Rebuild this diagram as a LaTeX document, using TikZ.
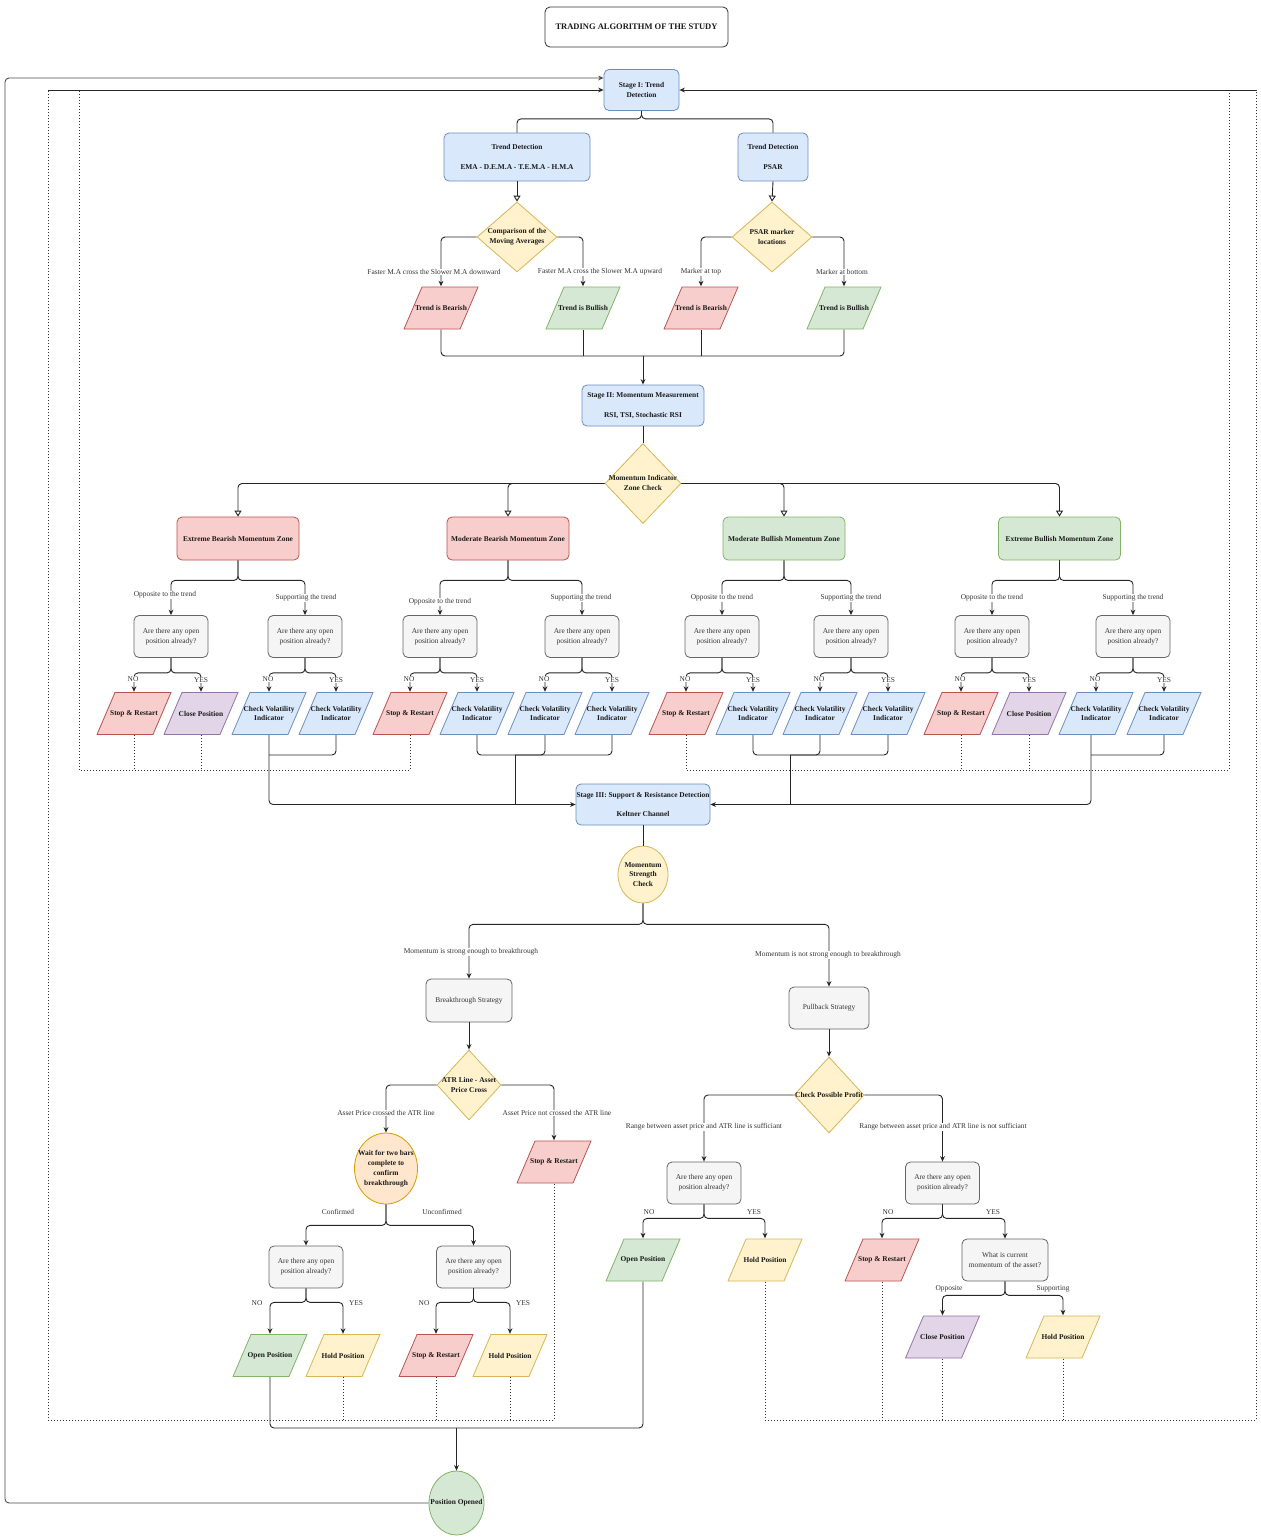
\documentclass[tikz,border=0pt]{standalone}
\usepackage{fontspec}
\setmainfont{Liberation Serif}
\usetikzlibrary{shapes.geometric,arrows.meta}
\definecolor{bfill}{HTML}{DAE8FC}\definecolor{bline}{HTML}{6C8EBF}
\definecolor{rfill}{HTML}{F8CECC}\definecolor{rline}{HTML}{B85450}
\definecolor{gfill}{HTML}{D5E8D4}\definecolor{gline}{HTML}{82B366}
\definecolor{yfill}{HTML}{FFF2CC}\definecolor{yline}{HTML}{D6B656}
\definecolor{pfill}{HTML}{E1D5E7}\definecolor{pline}{HTML}{9673A6}
\definecolor{nfill}{HTML}{F5F5F5}\definecolor{nline}{HTML}{666666}\definecolor{ntext}{HTML}{333333}
\definecolor{ofill}{HTML}{FFE6CC}\definecolor{oline}{HTML}{D79B00}
\definecolor{ink}{HTML}{1A1A1A}
\newcommand{\dgf}{\fontsize{7.4}{9.8}\selectfont}
\begin{document}
\begin{tikzpicture}[x=1pt,y=-1pt,
  txt/.style={font=\dgf\bfseries, text=ink, align=center, inner sep=0pt},
  fblue/.style={fill=bfill, draw=bline},
  fred/.style={fill=rfill, draw=rline},
  fgreen/.style={fill=gfill, draw=gline},
  fyellow/.style={fill=yfill, draw=yline},
  forange/.style={fill=ofill, draw=oline},
  fgray/.style={fill=nfill, draw=nline, text=ntext, font=\dgf},
  rbox/.style={txt, rounded corners=5pt, line width=0.8pt, draw},
  % slanted data box: an invisible 75x43 frame holding the drawn parallelogram
  para/.style 2 args={txt, rectangle, minimum width=75pt, minimum height=43pt,
    path picture={\draw[draw=#2, fill=#1, line width=0.8pt]
      ([xshift=0.5pt,yshift=0.5pt]path picture bounding box.south west)
      -- ([xshift=-18.5pt,yshift=0.5pt]path picture bounding box.south east)
      -- ([xshift=-0.5pt,yshift=-0.5pt]path picture bounding box.north east)
      -- ([xshift=18.5pt,yshift=-0.5pt]path picture bounding box.north west) -- cycle;}},
  pred/.style={para={rfill}{rline}},
  pgreen/.style={para={gfill}{gline}},
  pblue/.style={para={bfill}{bline}},
  pyellow/.style={para={yfill}{yline}},
  ppurple/.style={para={pfill}{pline}},
  qbox/.style={rbox, fgray, minimum width=74pt, minimum height=42pt},
  dia/.style={diamond, draw, inner sep=0pt, line width=0.8pt, fyellow},
  oval/.style={ellipse, draw, inner sep=0pt, line width=0.8pt},
  lab/.style={font=\dgf, text=ntext, fill=white, inner sep=0.6pt},
  edge/.style={line width=0.9pt, draw=black!85, rounded corners=4pt},
  arr/.style={edge, -{Stealth[length=5.5pt,width=4.8pt]}},
  oarr/.style={edge, -{Triangle[open,length=6pt,width=7pt]}},
  dot/.style={line width=0.9pt, draw=black!80, dash pattern=on 1pt off 2pt},
]
\fill[white] (0,0) rectangle (1261,1537);
\useasboundingbox (0,0) rectangle (1261,1537);

% ---------- heading ----------
\node[rbox, draw=black!80, fill=white, minimum width=183pt, minimum height=40pt,
  font=\fontsize{8.5}{10}\selectfont\bfseries] (title) at (636.5,27) {TRADING ALGORITHM OF THE STUDY};

% ---------- Stage I ----------
\node[rbox,fblue,minimum width=75pt,minimum height=41pt] (s1) at (641.5,90) {Stage I: Trend\\Detection};
\node[rbox,fblue,minimum width=146pt,minimum height=48pt] (td1) at (517,157) {Trend Detection\\[9.6pt]EMA - D.E.M.A - T.E.M.A - H.M.A};
\node[rbox,fblue,minimum width=70pt,minimum height=48pt] (td2) at (773,157) {Trend Detection\\[9.6pt]PSAR};
\node[dia,minimum width=80pt,minimum height=70pt] (d1) at (517,237) {};
\node[txt] (d1t) at (d1) {Comparison of the\\Moving Averages};
\node[dia,minimum width=80pt,minimum height=70pt] (d2) at (772,237) {};
\node[txt] (d2t) at (d2) {PSAR marker\\locations};
\node[pred] (tb1) at (441,308) {Trend is Bearish};
\node[pgreen] (tu1) at (583,308) {Trend is Bullish};
\node[pred] (tb2) at (701,308) {Trend is Bearish};
\node[pgreen] (tu2) at (844,308) {Trend is Bullish};

\draw[edge] (s1.south) -- ++(0,8) -| (td1.north);
\draw[edge] (s1.south) -- ++(0,8) -| (td2.north);
\draw[oarr] (td1.south) -- (d1.north);
\draw[oarr] (td2.south) -- (d2.north);
\draw[arr] (d1.west) -| (tb1.north);
\draw[arr] (d1.east) -| (tu1.north);
\draw[arr] (d2.west) -| (tb2.north);
\draw[arr] (d2.east) -| (tu2.north);
\node[lab] (l1) at (434,272) {Faster M.A cross the Slower M.A downward};
\node[lab] (l2) at (600,272) {Faster M.A cross the Slower M.A upward};
\node[lab] (l3) at (701,272) {Marker at top};
\node[lab] (l4) at (842,272) {Marker at bottom};

% ---------- Stage II ----------
\node[rbox,fblue,minimum width=122pt,minimum height=41pt] (s2) at (643,405.5) {Stage II: Momentum Measurement\\[9.6pt]RSI, TSI, Stochastic RSI};
\coordinate (j1) at (643,356);
\draw[edge] (tb1.south) |- (j1) -| (tu2.south);
\draw[edge] (tu1.south) -- (tu1.south |- j1);
\draw[edge] (tb2.south) -- (tb2.south |- j1);
\draw[arr] (j1) -- (s2.north);

\node[dia,minimum width=76pt,minimum height=80pt] (dz) at (643,483.5) {};
\node[txt] (dzt) at (643,483) {Momentum Indicator\\Zone Check};
\draw[edge] (s2.south) -- (dz.north);

\node[rbox,fred,minimum width=122pt,minimum height=43pt] (z1) at (238,538.5) {Extreme Bearish Momentum Zone};
\node[rbox,fred,minimum width=122pt,minimum height=43pt] (z2) at (508,538.5) {Moderate Bearish Momentum Zone};
\node[rbox,fgreen,minimum width=122pt,minimum height=43pt] (z3) at (784,538.5) {Moderate Bullish Momentum Zone};
\node[rbox,fgreen,minimum width=122pt,minimum height=43pt] (z4) at (1059.5,538.5) {Extreme Bullish Momentum Zone};
\draw[oarr] (dz.west) -| (z1.north);
\draw[oarr] (dz.west) -| (z2.north);
\draw[oarr] (dz.east) -| (z3.north);
\draw[oarr] (dz.east) -| (z4.north);

% questions per zone
\foreach \n/\x in {q1a/171,q1b/305,q2a/440,q2b/582,q3a/722,q3b/851,q4a/992,q4b/1133}
  \node[qbox] (\n) at (\x,636.5) {Are there any open\\position already?};

\draw[arr] (z1.south) -- ++(0,20) -| (q1a.north);
\draw[arr] (z1.south) -- ++(0,20) -| (q1b.north);
\draw[arr] (z2.south) -- ++(0,20) -| (q2a.north);
\draw[arr] (z2.south) -- ++(0,20) -| (q2b.north);
\draw[arr] (z3.south) -- ++(0,20) -| (q3a.north);
\draw[arr] (z3.south) -- ++(0,20) -| (q3b.north);
\draw[arr] (z4.south) -- ++(0,20) -| (q4a.north);
\draw[arr] (z4.south) -- ++(0,20) -| (q4b.north);
\node[lab] (o1) at (165,595) {Opposite to the trend};
\node[lab] (s1l) at (306,598) {Supporting the trend};
\node[lab] (o2) at (440,602) {Opposite to the trend};
\node[lab] (s2l) at (581,598) {Supporting the trend};
\node[lab] (o3) at (722,598) {Opposite to the trend};
\node[lab] (s3l) at (851,598) {Supporting the trend};
\node[lab] (o4) at (992,598) {Opposite to the trend};
\node[lab] (s4l) at (1133,598) {Supporting the trend};

% outcomes per zone
\node[pred] (p1a) at (134,713.5) {Stop \& Restart};
\node[ppurple] (p1b) at (201,713.5) {Close Position};
\node[pblue] (p1c) at (269,713.5) {Check Volatility\\Indicator};
\node[pblue] (p1d) at (336,713.5) {Check Volatility\\Indicator};
\node[pred] (p2a) at (410,713.5) {Stop \& Restart};
\node[pblue] (p2b) at (477,713.5) {Check Volatility\\Indicator};
\node[pblue] (p2c) at (545,713.5) {Check Volatility\\Indicator};
\node[pblue] (p2d) at (612,713.5) {Check Volatility\\Indicator};
\node[pred] (p3a) at (686,713.5) {Stop \& Restart};
\node[pblue] (p3b) at (753,713.5) {Check Volatility\\Indicator};
\node[pblue] (p3c) at (820,713.5) {Check Volatility\\Indicator};
\node[pblue] (p3d) at (888,713.5) {Check Volatility\\Indicator};
\node[pred] (p4a) at (961,713.5) {Stop \& Restart};
\node[ppurple] (p4b) at (1029,713.5) {Close Position};
\node[pblue] (p4c) at (1096,713.5) {Check Volatility\\Indicator};
\node[pblue] (p4d) at (1164,713.5) {Check Volatility\\Indicator};

\foreach \q/\a/\b in {q1a/p1a/p1b,q1b/p1c/p1d,q2a/p2a/p2b,q2b/p2c/p2d,q3a/p3a/p3b,q3b/p3c/p3d,q4a/p4a/p4b,q4b/p4c/p4d}{
  \draw[arr] (\q.south) -- ++(0,15) -| (\a.north);
  \draw[arr] (\q.south) -- ++(0,15) -| (\b.north);
  \node[lab] (\q no) at ([xshift=-1pt,yshift=13pt]\a.north) {NO};
  \node[lab] (\q yes) at ([yshift=12pt]\b.north) {YES};
}

% ---------- Stage III ----------
\node[rbox,fblue,minimum width=134pt,minimum height=41pt] (s3) at (643,804.5) {Stage III: Support \& Resistance Detection\\[9.6pt]Keltner Channel};
\coordinate (m1) at (269,755);
\coordinate (m2) at (515,755);
\coordinate (m3) at (790,755);
\coordinate (m4) at (1091,755);
\draw[arr] (p1c.south) |- (s3.west);
\draw[edge] (p1d.south) |- (m1);
\draw[edge] (p2b.south) |- (p2d.south |- m2) -- (p2d.south);
\draw[edge] (p2c.south) |- (m2);
\draw[edge] (m2) -- (m2 |- s3.west);
\draw[edge] (p3b.south) |- (p3d.south |- m3) -- (p3d.south);
\draw[edge] (p3c.south) |- (m3);
\draw[edge] (m3) -- (m3 |- s3.east);
\draw[arr] (p4c.south -| m4) |- (s3.east);
\draw[edge] (p4d.south) |- (m4);

\node[oval,fyellow,minimum width=50pt,minimum height=57pt] (msc) at (643,874.5) {};
\node[txt] (msct) at (msc) {Momentum\\Strength\\Check};
\draw[edge] (s3.south) -- (msc.north);

\node[rbox,fgray,minimum width=86pt,minimum height=43pt] (bs) at (469,1000.5) {Breakthrough Strategy};
\node[rbox,fgray,minimum width=80pt,minimum height=42pt] (ps) at (829,1008) {Pullback Strategy};
\draw[arr] (msc.south) -- ++(0,21) -| (bs.north);
\draw[arr] (msc.south) -- ++(0,21) -| (ps.north);
\node[lab] (lbs) at (471,952) {Momentum is strong enough to breakthrough};
\node[lab] (lps) at (828,955) {Momentum is not strong enough to breakthrough};

% ---------- breakthrough branch ----------
\node[dia,minimum width=64pt,minimum height=70pt] (atr) at (469,1085) {};
\node[txt] (atrt) at (469,1085) {ATR Line - Asset\\Price Cross};
\draw[arr] (bs.south) -- (atr.north);
\node[oval,forange,minimum width=63pt,minimum height=71pt] (wait) at (386,1168.5) {};
\node[txt] (waitt) at (wait) {Wait for two bars\\complete to\\confirm\\breakthrough};
\node[pred] (sr5) at (554,1162) {Stop \& Restart};
\draw[arr] (atr.west) -| (wait.north);
\draw[arr] (atr.east) -| (sr5.north);
\node[lab] (la1) at (386,1113) {Asset Price crossed the ATR line};
\node[lab] (la2) at (557,1113) {Asset Price not crossed the ATR line};

\node[qbox] (q5a) at (306,1267) {Are there any open\\position already?};
\node[qbox] (q5b) at (473.5,1267) {Are there any open\\position already?};
\draw[arr] (wait.south) -- ++(0,21) -| (q5a.north);
\draw[arr] (wait.south) -- ++(0,21) -| (q5b.north);
\node[lab] (lc1) at (338,1212) {Confirmed};
\node[lab] (lc2) at (442,1212) {Unconfirmed};

\node[pgreen] (op1) at (270,1355.5) {Open Position};
\node[pyellow] (hp1) at (343,1355.5) {Hold Position};
\node[pred] (sr6) at (436,1355.5) {Stop \& Restart};
\node[pyellow] (hp2) at (510,1355.5) {Hold Position};
\draw[arr] (q5a.south) -- ++(0,14) -| (op1.north);
\draw[arr] (q5a.south) -- ++(0,14) -| (hp1.north);
\draw[arr] (q5b.south) -- ++(0,14) -| (sr6.north);
\draw[arr] (q5b.south) -- ++(0,14) -| (hp2.north);
\node[lab] (n5a) at (257,1303) {NO};
\node[lab] (y5a) at (356,1303) {YES};
\node[lab] (n5b) at (424,1303) {NO};
\node[lab] (y5b) at (523,1303) {YES};

% ---------- pullback branch ----------
\node[dia,minimum width=70pt,minimum height=76pt] (cpp) at (829,1095) {};
\node[txt] (cppt) at (829,1095) {Check Possible Profit};
\draw[arr] (ps.south) -- (cpp.north);
\node[qbox] (q6a) at (704,1183) {Are there any open\\position already?};
\node[qbox] (q6b) at (942.5,1183) {Are there any open\\position already?};
\draw[arr] (cpp.west) -| (q6a.north);
\draw[arr] (cpp.east) -| (q6b.north);
\node[lab] (lr1) at (704,1127) {Range between asset price and ATR line is sufficiant};
\node[lab] (lr2) at (943,1127) {Range between asset price and ATR line is not sufficiant};

\node[pgreen] (op2) at (643,1260) {Open Position};
\node[pyellow] (hp3) at (765,1260) {Hold Position};
\node[pred] (sr7) at (882,1260) {Stop \& Restart};
\node[rbox,fgray,minimum width=86pt,minimum height=42pt] (wm) at (1005,1260) {What is current\\momentum of the asset?};
\draw[arr] (q6a.south) -- ++(0,14) -| (op2.north);
\draw[arr] (q6a.south) -- ++(0,14) -| (hp3.north);
\draw[arr] (q6b.south) -- ++(0,14) -| (sr7.north);
\draw[arr] (q6b.south) -- ++(0,14) -| (wm.north);
\node[lab] (n6a) at (649,1212) {NO};
\node[lab] (y6a) at (754,1212) {YES};
\node[lab] (n6b) at (888,1212) {NO};
\node[lab] (y6b) at (993,1212) {YES};

\node[ppurple] (cp3) at (942.5,1337) {Close Position};
\node[pyellow] (hp4) at (1063,1337) {Hold Position};
\draw[arr] (wm.south) -- ++(0,14) -| (cp3.north);
\draw[arr] (wm.south) -- ++(0,14) -| (hp4.north);
\node[lab] (lop) at (949,1289) {Opposite};
\node[lab] (lsu) at (1053,1289) {Supporting};

% ---------- opened position and return to Stage I ----------
\node[oval,fgreen,minimum width=55pt,minimum height=64pt] (po) at (456.5,1503) {};
\node[txt] (pot) at (po) {Position Opened};
\coordinate (jb) at (456.5,1428);
\draw[edge] (op1.south) |- (jb) -| (op2.south);
\draw[arr] (jb) -- (po.north);
\coordinate (back) at (5,78);
\draw[arr, draw=black!70] (po.west) -| (back) -- (s1.west |- back);

% ---------- restart loops (dotted) ----------
\coordinate (T) at (0,90);
\coordinate (L1) at (79,770);
\coordinate (R1) at (1229,770);
\coordinate (L2) at (48,1420);
\coordinate (R2) at (1256,1420);
\draw[dot] (p2a.south) |- (L1) -- (L1 |- T);
\draw[dot] (p1a.south) -- (p1a.south |- L1);
\draw[dot] (p1b.south) -- (p1b.south |- L1);
\draw[dot] (p3a.south) |- (R1) -- (R1 |- T);
\draw[dot] (p4a.south) -- (p4a.south |- R1);
\draw[dot] (p4b.south) -- (p4b.south |- R1);
\draw[dot] (sr5.south) |- (L2) -- (L2 |- T);
\draw[dot] (hp1.south) -- (hp1.south |- L2);
\draw[dot] (sr6.south) -- (sr6.south |- L2);
\draw[dot] (hp2.south) -- (hp2.south |- L2);
\draw[dot] (hp3.south) |- (R2) -- (R2 |- T);
\draw[dot] (sr7.south) -- (sr7.south |- R2);
\draw[dot] (cp3.south) -- (cp3.south |- R2);
\draw[dot] (hp4.south) -- (hp4.south |- R2);
\draw[arr] (L2 |- T) -- (s1.west);
\draw[arr] (R2 |- T) -- (s1.east);
\end{tikzpicture}
\end{document}
